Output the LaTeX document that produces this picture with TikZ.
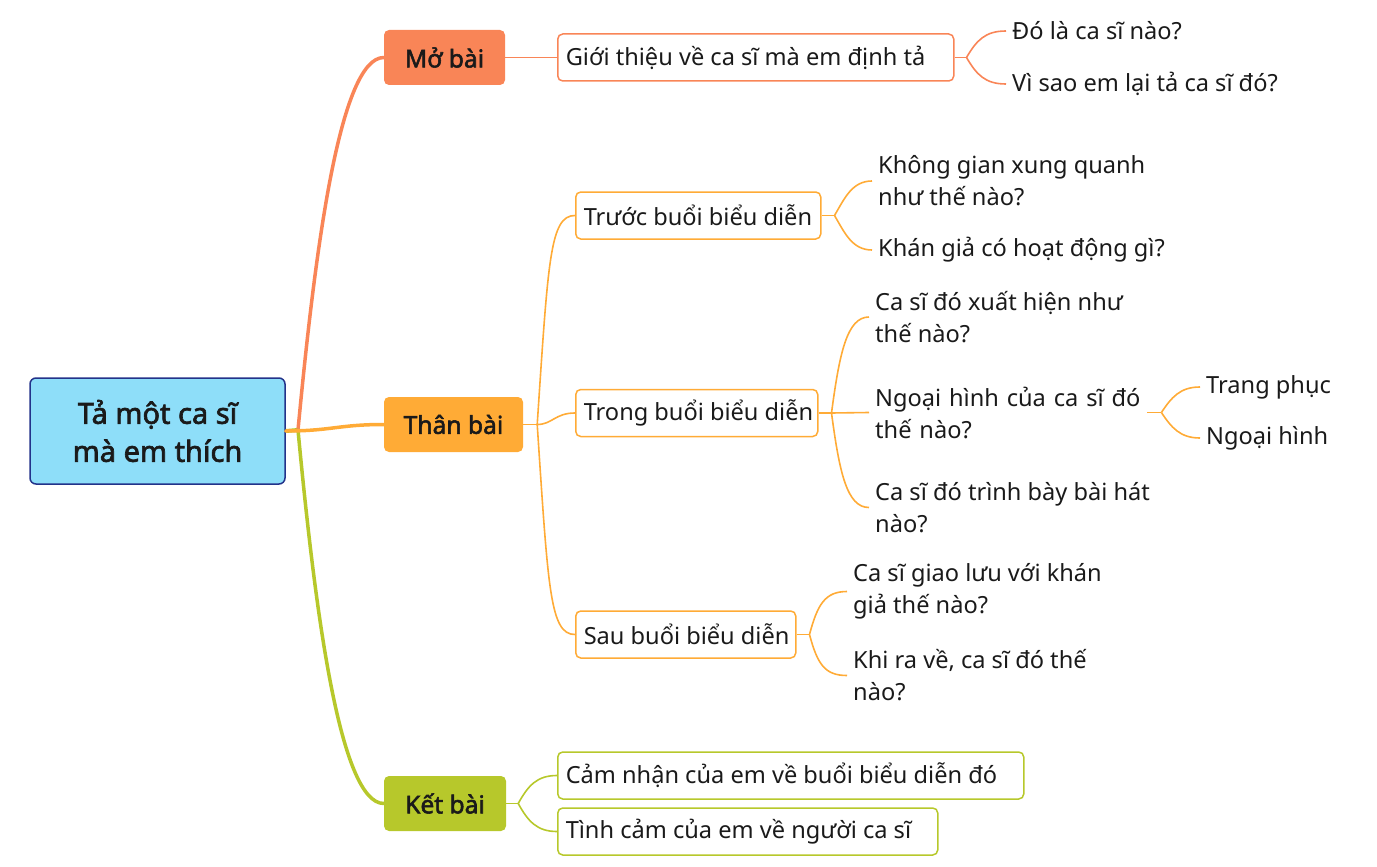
\documentclass[tikz,border=0pt]{standalone}
\usepackage{fontspec}
\setmainfont{Noto Sans}[AutoFakeBold=2.2]
\definecolor{cRed}{HTML}{F98557}
\definecolor{cOr}{HTML}{FFAB36}
\definecolor{cGr}{HTML}{B7C82B}
\definecolor{cRootF}{HTML}{8EDEF9}
\definecolor{cRootD}{HTML}{23338A}
\definecolor{cTxt}{HTML}{1A1A1A}
\tikzset{
  rootbox/.style={draw=cRootD, fill=cRootF, line width=1.5pt, rounded corners=6pt,
    minimum width=255pt, minimum height=106pt, align=center, text=cTxt,
    font=\bfseries\fontsize{29}{38}\selectfont},
  mainbox/.style={rounded corners=5pt, minimum height=55pt, text=cTxt,
    font=\bfseries\fontsize{24.6}{28}\selectfont},
  subbox/.style={draw, fill=white, line width=1.5pt, rounded corners=5pt,
    minimum height=47pt, inner xsep=8pt, inner ysep=0pt, anchor=west,
    text=cTxt, font=\fontsize{23.6}{32}\selectfont},
  leaf/.style={anchor=west, inner xsep=6pt, inner ysep=0pt, align=left,
    text=cTxt, font=\fontsize{23.6}{32}\selectfont},
  bigline/.style={line width=3.5pt, line cap=round},
  thin/.style={line width=1.6pt}
}
\begin{document}
\begin{tikzpicture}[x=1pt,y=-1pt]
\useasboundingbox (0,0) rectangle (1377,867);
% main nodes
\node[rootbox] (root) at (157.5,431) {Tả một ca sĩ\\mà em thích};
\node[mainbox, fill=cRed, minimum width=121pt] (mo) at (444.5,57.5) {Mở bài};
\node[mainbox, fill=cOr, minimum width=139pt] (th) at (453.5,424.5) {Thân bài};
\node[mainbox, fill=cGr, minimum width=122pt] (kb) at (445,803.5) {Kết bài};
% sub boxes
\node[subbox, draw=cRed] (gt) at (557,57.5) {\makebox[380pt][l]{Giới thiệu về ca sĩ mà em định tả}};
\node[subbox, draw=cOr] (trc) at (575,215.5) {\makebox[229pt][l]{Trước buổi biểu diễn}};
\node[subbox, draw=cOr] (trg) at (575,413) {\makebox[226pt][l]{Trong buổi biểu diễn}};
\node[subbox, draw=cOr] (sau) at (575,634.5) {\makebox[204pt][l]{Sau buổi biểu diễn}};
\node[subbox, draw=cGr] (cn) at (557,775.5) {\makebox[450pt][l]{Cảm nhận của em về buổi biểu diễn đó}};
\node[subbox, draw=cGr] (tc) at (557,831.5) {\makebox[364pt][l]{Tình cảm của em về người ca sĩ}};
% leaves
\node[leaf] (do) at (1006,31) {Đó là ca sĩ nào?};
\node[leaf] (vs) at (1006,84) {Vì sao em lại tả ca sĩ đó?};
\node[leaf] (kg) at (872,181) {Không gian xung quanh\\như thế nào?};
\node[leaf] (kh) at (872,250) {Khán giả có hoạt động gì?};
\node[leaf] (xh) at (869,317) {Ca sĩ đó xuất hiện như\\thế nào?};
\node[leaf, text width=266pt] (nh) at (869,412.5) {Ngoại hình của ca sĩ đó\\thế nào?};
\node[leaf] (tb) at (869,507.5) {Ca sĩ đó trình bày bài hát\\nào?};
\node[leaf] (tp) at (1200,387) {Trang phục};
\node[leaf] (nh2) at (1200,438) {Ngoại hình};
\node[leaf] (gl) at (847,591.5) {Ca sĩ giao lưu với khán\\giả thế nào?};
\node[leaf] (rv) at (847,675.5) {Khi ra về, ca sĩ đó thế\\nào?};
% main branches
\coordinate (r0) at (298,430);
\draw[cGr, line width=4pt] (root.east) -- (r0);
\draw[cRed, bigline] (r0) .. controls +(17,-180) and +(-44,0) .. (mo.west);
\draw[cGr, bigline] (r0) .. controls +(17,180) and +(-44,0) .. (kb.west);
\draw[cOr, bigline] (root.east) .. controls +(45,0) and +(-45,0) .. (th.west);
% Mo bai
\draw[cRed, thin] (mo.east) -- (gt.west);
\draw[cRed, thin] (gt.east) -- ++(12,0) coordinate (g0);
\draw[cRed, thin] (g0) .. controls +(10,-17) and +(-21,0) .. (do.west);
\draw[cRed, thin] (g0) .. controls +(10,17) and +(-21,0) .. (vs.west);
% Than bai
\draw[cOr, thin] (th.east) -- ++(14,0) coordinate (tb0);
\draw[cOr, thin] (tb0) .. controls +(11,-165) and +(-25,0) .. (trc.west);
\draw[cOr, thin] (tb0) .. controls +(15,0) and +(-20,0) .. (trg.west);
\draw[cOr, thin] (tb0) .. controls +(11,165) and +(-25,0) .. (sau.west);
% Truoc
\draw[cOr, thin] (trc.east) -- ++(13,0) coordinate (t0);
\draw[cOr, thin] (t0) .. controls +(10,-17) and +(-20,0) .. (kg.west);
\draw[cOr, thin] (t0) .. controls +(10,17) and +(-20,0) .. (kh.west);
% Trong
\draw[cOr, thin] (trg.east) -- ++(13,0) coordinate (n0);
\draw[cOr, thin] (n0) .. controls +(8,-60) and +(-22,0) .. (xh.west);
\draw[cOr, thin] (n0) -- (nh.west);
\draw[cOr, thin] (n0) .. controls +(8,60) and +(-22,0) .. (tb.west);
\draw[cOr, thin] (nh.east) -- ++(14,0) coordinate (h0);
\draw[cOr, thin] (h0) .. controls +(10,-15) and +(-20,0) .. (tp.west);
\draw[cOr, thin] (h0) .. controls +(10,15) and +(-20,0) .. (nh2.west);
% Sau
\draw[cOr, thin] (sau.east) -- ++(13,0) coordinate (s0);
\draw[cOr, thin] (s0) .. controls +(8,-30) and +(-22,0) .. (gl.west);
\draw[cOr, thin] (s0) .. controls +(8,30) and +(-22,0) .. (rv.west);
% Ket bai
\draw[cGr, thin] (kb.east) -- ++(12,0) coordinate (k0);
\draw[cGr, thin] (k0) .. controls +(10,-18) and +(-20,0) .. (cn.west);
\draw[cGr, thin] (k0) .. controls +(10,18) and +(-20,0) .. (tc.west);
\end{tikzpicture}
\end{document}
